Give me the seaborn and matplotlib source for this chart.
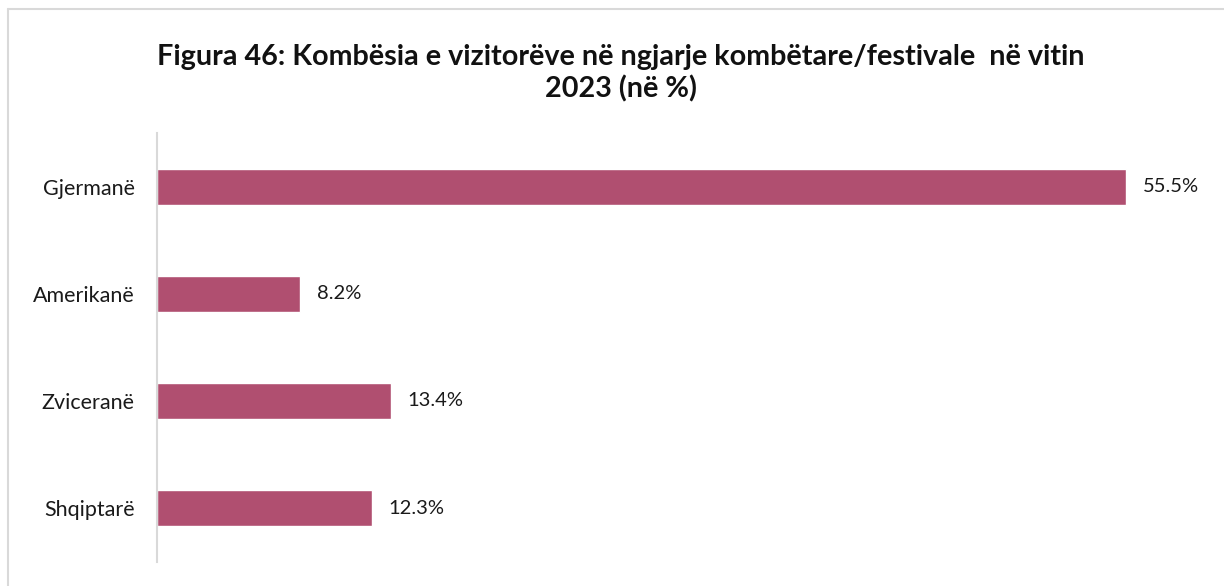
import matplotlib
matplotlib.use("Agg")
import matplotlib.pyplot as plt
import seaborn as sns
import pandas as pd
from matplotlib.lines import Line2D

categories = ["Gjermanë", "Amerikanë", "Zviceranë", "Shqiptarë"]
values = [55.5, 8.2, 13.4, 12.3]
title = "Figura 46: Kombësia e vizitorëve në ngjarje kombëtare/festivale  në vitin\n2023 (në %)"

sns.set_theme(style="white")
plt.rcParams["font.family"] = ["Lato", "DejaVu Sans"]

df = pd.DataFrame({"kombesia": categories, "perqindja": values})

fig = plt.figure(figsize=(12.24, 5.86), dpi=100)
ax = fig.add_axes([0.1283, 0.0418, 0.8562, 0.7304])

sns.barplot(data=df, x="perqindja", y="kombesia", order=categories,
            color="#B04F70", saturation=1, width=0.34, ax=ax)

ax.set_xlim(0, 60)
ax.set_ylim(3.5, -0.5)
ax.set_xlabel("")
ax.set_ylabel("")
ax.set_xticks([])
ax.tick_params(axis="y", length=0, pad=16, labelsize=15.5, labelcolor="#1a1a1a")
for s in ["top", "right", "bottom"]:
    ax.spines[s].set_visible(False)
ax.spines["left"].set_color("#d9d9d9")
ax.spines["left"].set_linewidth(1.5)

for i, v in enumerate(values):
    ax.annotate(f"{v:.1f}%", xy=(v, i), xytext=(12, 0), textcoords="offset points",
                va="center", ha="left", fontsize=14.5, color="#1a1a1a")

fig.text(0.507, 0.875, title, ha="center", va="center", fontsize=20.7,
         fontweight="bold", color="#111111", linespacing=1.2)

# light frame along the top and left edges
fig.add_artist(Line2D([8 / 1224, 1], [1 - 9 / 586, 1 - 9 / 586],
                      transform=fig.transFigure, color="#d9d9d9", lw=1.5))
fig.add_artist(Line2D([8 / 1224, 8 / 1224], [0, 1 - 9 / 586],
                      transform=fig.transFigure, color="#d9d9d9", lw=1.5))

fig.savefig("out.png", dpi=100, facecolor="white")
